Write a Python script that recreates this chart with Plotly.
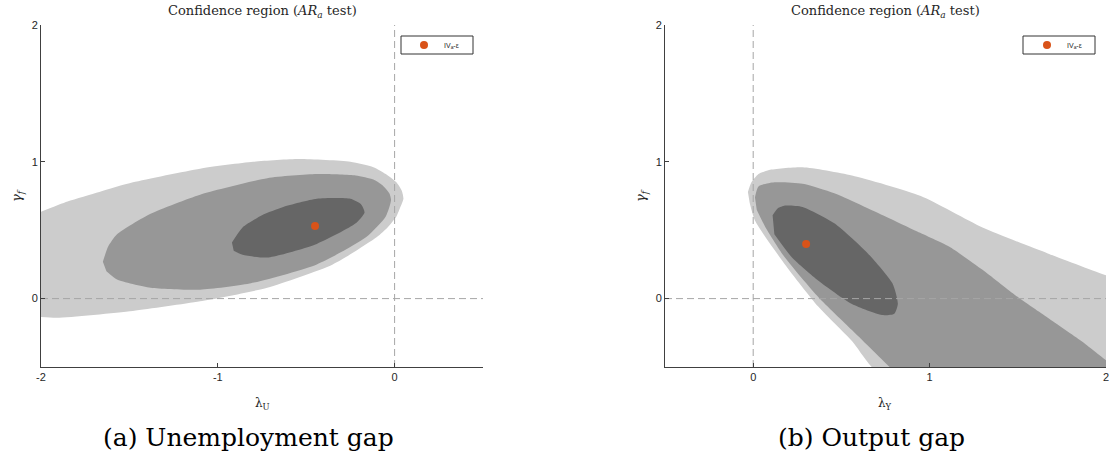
import plotly.graph_objects as go

# ---------------- data ----------------
# Panel (a): unemployment gap, confidence regions (boundary points: lambda_U, gamma_f)
lamU_outer = [-2.05, -1.85, -1.67, -1.48, -1.10, -0.80, -0.54, -0.25, -0.12, -0.05, 0.01, 0.04, 0.05, 0.03, 0.01, -0.04, -0.10, -0.35, -0.72, -1.10, -1.48, -1.91, -2.05]
gamU_outer = [0.61, 0.71, 0.78, 0.85, 0.95, 1.00, 1.02, 1.00, 0.96, 0.91, 0.85, 0.79, 0.73, 0.66, 0.60, 0.52, 0.45, 0.25, 0.08, -0.02, -0.09, -0.14, -0.13]

lamU_mid = [-1.65, -1.62, -1.57, -1.38, -1.10, -0.72, -0.44, -0.22, -0.12, -0.07, -0.03, -0.02, -0.05, -0.16, -0.44, -0.82, -1.10, -1.38, -1.57, -1.63]
gamU_mid = [0.27, 0.38, 0.47, 0.62, 0.76, 0.88, 0.91, 0.90, 0.87, 0.83, 0.77, 0.72, 0.60, 0.45, 0.25, 0.11, 0.065, 0.08, 0.14, 0.20]

lamU_in = [-0.92, -0.86, -0.75, -0.63, -0.44, -0.25, -0.19, -0.17, -0.22, -0.44, -0.72, -0.86, -0.91]
gamU_in = [0.41, 0.52, 0.61, 0.67, 0.73, 0.73, 0.69, 0.63, 0.55, 0.40, 0.30, 0.32, 0.35]

lamU_est = [-0.45]
gamU_est = [0.53]

# Panel (b): output gap, confidence regions (boundary points: lambda_Y, gamma_f)
lamY_outer = [-0.03, -0.01, 0.03, 0.09, 0.28, 0.56, 0.95, 1.30, 1.67, 2.00, 2.05, 2.05, 0.72, 0.56, 0.37, 0.18, 0.01, -0.02]
gamY_outer = [0.78, 0.85, 0.91, 0.94, 0.96, 0.90, 0.75, 0.52, 0.33, 0.17, 0.15, -0.55, -0.55, -0.31, -0.06, 0.25, 0.57, 0.70]

lamY_mid = [0.01, 0.03, 0.12, 0.28, 0.46, 0.75, 0.93, 1.11, 1.30, 1.48, 1.67, 1.86, 2.00, 2.05, 2.05, 0.82, 0.79, 0.56, 0.37, 0.18, 0.07, 0.02]
gamY_mid = [0.74, 0.82, 0.85, 0.84, 0.77, 0.60, 0.49, 0.38, 0.21, 0.03, -0.14, -0.31, -0.45, -0.49, -0.55, -0.55, -0.52, -0.23, 0.01, 0.30, 0.52, 0.65]

lamY_in = [0.11, 0.14, 0.18, 0.28, 0.46, 0.65, 0.79, 0.82, 0.80, 0.73, 0.56, 0.37, 0.22, 0.12]
gamY_in = [0.61, 0.66, 0.68, 0.67, 0.55, 0.33, 0.11, -0.04, -0.11, -0.12, -0.04, 0.13, 0.30, 0.47]

lamY_est = [0.30]
gamY_est = [0.40]

xrangeU = [-2, 0.5]
xrangeY = [-0.5, 2]
yrange = [-0.5, 2]
xticksU = [-2, -1, 0]
xticksY = [0, 1, 2]
yticks = [0, 1, 2]
xticktextU = ["-2", "-1", "0"]
xticktextY = ["0", "1", "2"]
yticktext = ["0", "1", "2"]

legend_label = "IV<sub>a</sub>-ε"
panel_title = "Confidence region (<i>AR</i><sub><i>a</i></sub> test)"
captions = ["(a) Unemployment gap", "(b) Output gap"]

# ---------------- styling ----------------
C_LIGHT = "#cccccc"
C_MID = "#979797"
C_DARK = "#666666"
C_PT = "#d95319"
C_DASH = "#a6a6a6"
W, H = 1109, 458
SERIF = "DejaVu Serif, Liberation Serif, serif"
SANS = "Liberation Sans, Arial, sans-serif"

fig = go.Figure()


def add_panel(xa, ya, legend_name, lam_o, gam_o, lam_m, gam_m, lam_i, gam_i, lam_e, gam_e, xr):
    for lx, gy, col in [(lam_o, gam_o, C_LIGHT), (lam_m, gam_m, C_MID), (lam_i, gam_i, C_DARK)]:
        fig.add_trace(go.Scatter(x=lx, y=gy, fill="toself", fillcolor=col, mode="lines",
                                 line=dict(width=0, color=col, shape="spline", smoothing=0.6),
                                 hoverinfo="skip", showlegend=False, xaxis=xa, yaxis=ya))
    # zero lines
    fig.add_trace(go.Scatter(x=[0, 0], y=yrange, mode="lines",
                             line=dict(color=C_DASH, width=1, dash="7px,4px"),
                             showlegend=False, xaxis=xa, yaxis=ya, hoverinfo="skip"))
    fig.add_trace(go.Scatter(x=xr, y=[0, 0], mode="lines",
                             line=dict(color=C_DASH, width=1, dash="7px,4px"),
                             showlegend=False, xaxis=xa, yaxis=ya, hoverinfo="skip"))
    fig.add_trace(go.Scatter(x=lam_e, y=gam_e, mode="markers", name=legend_label,
                             marker=dict(color=C_PT, size=8), showlegend=True,
                             legend=legend_name, xaxis=xa, yaxis=ya))


add_panel("x", "y", "legend", lamU_outer, gamU_outer, lamU_mid, gamU_mid, lamU_in, gamU_in,
          lamU_est, gamU_est, xrangeU)
add_panel("x2", "y2", "legend2", lamY_outer, gamY_outer, lamY_mid, gamY_mid, lamY_in, gamY_in,
          lamY_est, gamY_est, xrangeY)

dom_y = [1 - 367 / H, 1 - 25 / H]
dom_x1 = [41 / W, 483 / W]
dom_x2 = [665 / W, 1106 / W]

axis_common = dict(showgrid=False, zeroline=False, showline=True, linecolor="#404040", linewidth=1,
                   ticks="inside", ticklen=4, tickcolor="#404040", mirror=False, automargin=False,
                   ticklabeloverflow="allow",
                   tickfont=dict(family=SANS, size=11, color="#262626"), fixedrange=True)

leg_common = dict(yanchor="middle", y=1 - 45 / H, xanchor="left",
                  borderwidth=0, bgcolor="rgba(0,0,0,0)",
                  font=dict(family=SANS, size=7, color="#262626"),
                  itemwidth=30, tracegroupgap=0)

fig.update_layout(
    width=W, height=H,
    margin=dict(l=0, r=0, t=0, b=0, autoexpand=False),
    paper_bgcolor="white", plot_bgcolor="white",
    xaxis=dict(domain=dom_x1, range=xrangeU, tickvals=xticksU, ticktext=xticktextU, anchor="y", **axis_common),
    yaxis=dict(domain=dom_y, range=yrange, tickvals=yticks, ticktext=yticktext, anchor="x", **axis_common),
    xaxis2=dict(domain=dom_x2, range=xrangeY, tickvals=xticksY, ticktext=xticktextY, anchor="y2", **axis_common),
    yaxis2=dict(domain=dom_y, range=yrange, tickvals=yticks, ticktext=yticktext, anchor="x2", **axis_common),
    legend=dict(x=404 / W, **leg_common),
    legend2=dict(x=1027 / W, **leg_common),
    showlegend=True,
)

# legend frames
shapes = []
for x0, x1 in [(401, 473), (1023, 1095)]:
    shapes.append(dict(type="rect", xref="paper", yref="paper",
                       x0=x0 / W, x1=x1 / W, y0=1 - 54 / H, y1=1 - 36 / H,
                       line=dict(color="#333333", width=1), fillcolor="white", layer="below"))
fig.update_layout(shapes=shapes)

ann = []
for cx in [(41 + 483) / 2, (665 + 1106) / 2]:
    ann.append(dict(x=cx / W, y=1 - 12 / H, xref="paper", yref="paper", text=panel_title,
                    showarrow=False, xanchor="center", yanchor="middle",
                    font=dict(family=SERIF, size=13, color="#262626")))
ann.append(dict(x=262 / W, y=1 - 404 / H, xref="paper", yref="paper", text="λ<sub>U</sub>",
                showarrow=False, xanchor="center", yanchor="middle",
                font=dict(family=SERIF, size=12, color="#262626")))
ann.append(dict(x=885 / W, y=1 - 404 / H, xref="paper", yref="paper", text="λ<sub>Y</sub>",
                showarrow=False, xanchor="center", yanchor="middle",
                font=dict(family=SERIF, size=12, color="#262626")))
for gx in [17, 641]:
    ann.append(dict(x=gx / W, y=1 - 196 / H, xref="paper", yref="paper", text="<i>γ<sub>f</sub></i>",
                    showarrow=False, xanchor="center", yanchor="middle", textangle=-90,
                    font=dict(family=SERIF, size=13, color="#262626")))
for cx, txt in zip([248, 871], captions):
    ann.append(dict(x=cx / W, y=1 - 437 / H, xref="paper", yref="paper", text=txt,
                    showarrow=False, xanchor="center", yanchor="middle",
                    font=dict(family=SERIF, size=25, color="#000000")))
fig.update_layout(annotations=ann)

fig.write_html("out.html", config={"displayModeBar": False},
               post_script="document.body.style.margin='0';document.body.style.overflow='hidden';")
